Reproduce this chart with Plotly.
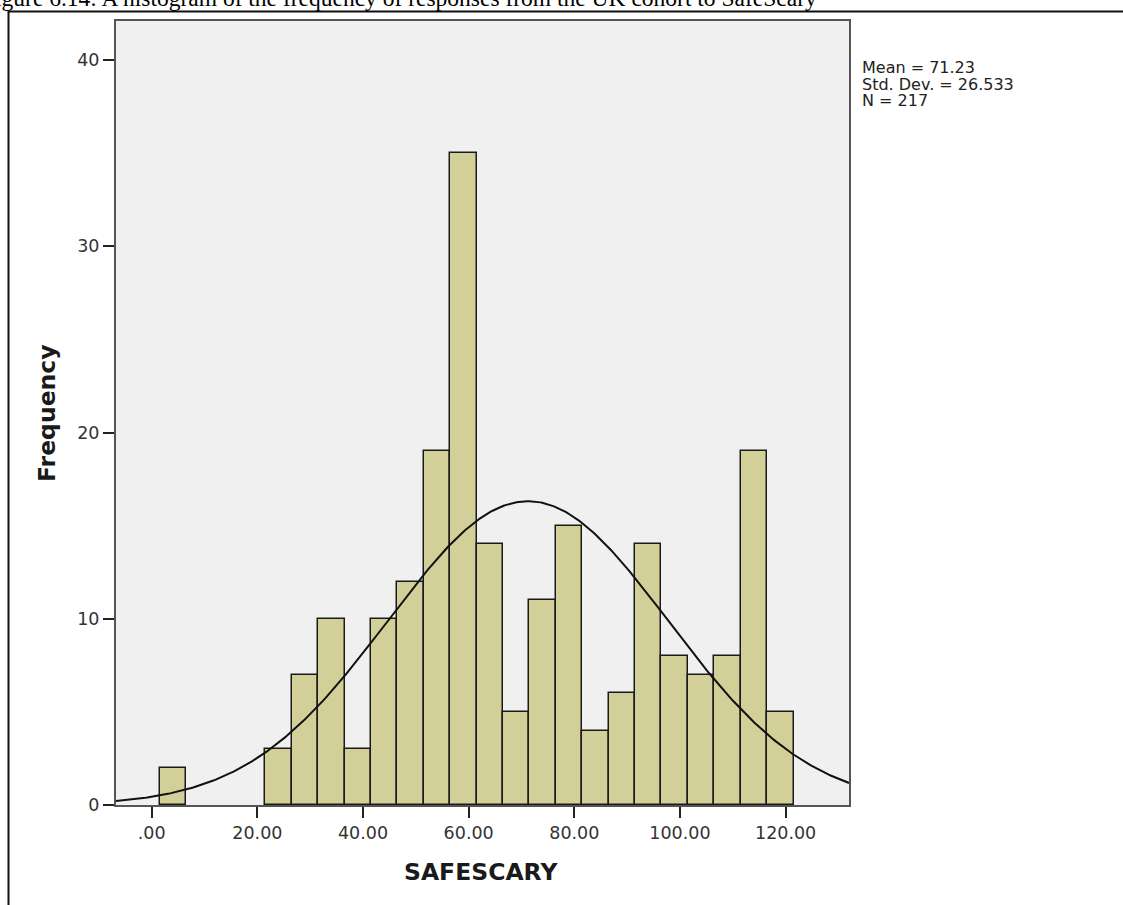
import numpy as np
import plotly.graph_objects as go

# Histogram of SAFESCARY scores (bin width 5)
bin_centers = [4, 24, 29, 34, 39, 44, 49, 54, 59, 64, 69,
               74, 79, 84, 89, 94, 99, 104, 109, 114, 119]
frequencies = [2, 3, 7, 10, 3, 10, 12, 19, 35, 14, 5,
               11, 15, 4, 6, 14, 8, 7, 8, 19, 5]
bin_width = 5

mean_val = 71.23
std_val = 26.533
n_val = 217

x_ticks = [0, 20, 40, 60, 80, 100, 120]
x_tick_labels = [".00", "20.00", "40.00", "60.00", "80.00", "100.00", "120.00"]
y_ticks = [0, 10, 20, 30, 40]

x_range = [-6.76, 132.0]
y_range = [0, 42.1]

W, H = 1123, 905
ML, MR, MT, MB = 116, 274, 21, 100
PW, PH = W - ML - MR, H - MT - MB


def px_x(p):
    return (p - ML) / PW


def px_y(p):
    return (H - MB - p) / PH


# Normal curve scaled to counts
curve_x = np.linspace(x_range[0], x_range[1], 400)
curve_y = n_val * bin_width / (std_val * np.sqrt(2 * np.pi)) * np.exp(
    -0.5 * ((curve_x - mean_val) / std_val) ** 2)

fig = go.Figure()
fig.add_trace(go.Bar(
    x=bin_centers, y=frequencies, width=bin_width,
    marker=dict(color="#d3cf98", line=dict(color="#1a1a1a", width=1.5)),
    hoverinfo="x+y",
))
fig.add_trace(go.Scatter(
    x=curve_x, y=curve_y, mode="lines",
    line=dict(color="#111111", width=2), hoverinfo="skip",
))

tick_font = dict(family="DejaVu Sans", size=17.5, color="#333333")
fig.update_layout(
    width=W, height=H,
    margin=dict(l=ML, r=MR, t=MT, b=MB, pad=0),
    paper_bgcolor="white", plot_bgcolor="#f0f0f0",
    showlegend=False, bargap=0,
    xaxis=dict(range=x_range, tickvals=x_ticks, ticktext=x_tick_labels,
               ticks="outside", ticklen=11, tickwidth=2, tickcolor="#222222",
               showgrid=False, zeroline=False, showline=True,
               linecolor="#555555", linewidth=2, mirror=True,
               tickfont=tick_font),
    yaxis=dict(range=y_range, tickvals=y_ticks,
               ticks="outside", ticklen=11, tickwidth=2, tickcolor="#222222",
               showgrid=False, zeroline=False, showline=True,
               linecolor="#555555", linewidth=2, mirror=True,
               tickfont=tick_font),
)

# Outer border around the chart
fig.add_shape(type="rect", xref="paper", yref="paper",
              x0=px_x(8.5), x1=px_x(1130), y0=px_y(915), y1=px_y(11.5),
              line=dict(color="#111111", width=2), fillcolor="rgba(0,0,0,0)",
              layer="above")

# Caption above the chart
fig.add_annotation(
    text="Figure 6.14: A histogram of the frequency of responses from the UK cohort to SafeScary",
    xref="paper", yref="paper", x=px_x(-20), y=px_y(13.5), xanchor="left", yanchor="bottom",
    showarrow=False, font=dict(family="Liberation Serif", size=23.5, color="#000000"))

# Axis titles
fig.add_annotation(text="<b>SAFESCARY</b>", xref="paper", yref="paper",
                   x=px_x(481), y=px_y(872), xanchor="center", yanchor="middle",
                   showarrow=False,
                   font=dict(family="DejaVu Sans", size=23.5, color="#1a1a1a"))
fig.add_annotation(text="<b>Frequency</b>", xref="paper", yref="paper",
                   x=px_x(47), y=px_y(413), xanchor="center", yanchor="middle",
                   textangle=-90, showarrow=False,
                   font=dict(family="DejaVu Sans", size=23.5, color="#1a1a1a"))

# Summary statistics
stats_lines = [f"Mean = {mean_val:.2f}", f"Std. Dev. = {std_val:.3f}", f"N = {n_val}"]
for i, line in enumerate(stats_lines):
    fig.add_annotation(text=line, xref="paper", yref="paper",
                       x=px_x(861), y=px_y(67.5 + 16.5 * i),
                       xanchor="left", yanchor="middle", showarrow=False,
                       borderpad=0,
                       font=dict(family="DejaVu Sans", size=16, color="#222222"))

fig.write_html("out.html")
